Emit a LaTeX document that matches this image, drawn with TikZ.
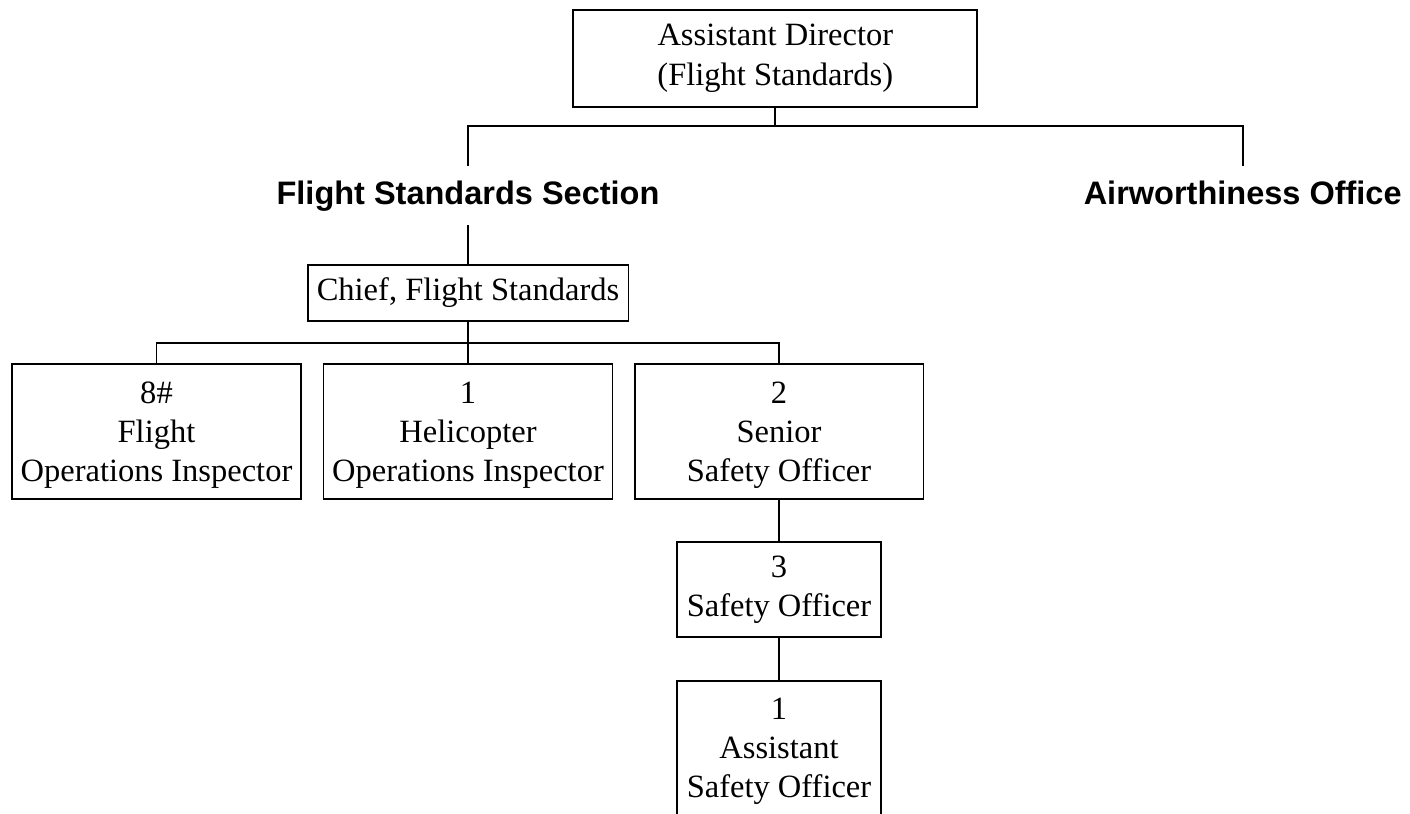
\documentclass[tikz,border=0pt]{standalone}
\usepackage{fontspec}
\setmainfont{Liberation Serif}
\setsansfont{Liberation Sans}
\usepackage{tikz}
\usetikzlibrary{positioning, calc}

\newcommand{\toprule}{\rule{0pt}{16pt}}

\begin{document}
\begin{tikzpicture}[x=0.02cm, y=-0.02cm,
    every node/.style={font=\fontsize{18.5}{22.3}\selectfont},
    unitbox/.style={
        rectangle, draw, line width=1.1pt,
        align=center, inner sep=0pt,
    },
    sectionlabel/.style={
        font=\fontsize{18.5}{22.3}\selectfont\bfseries\sffamily,
        anchor=base, text height=13pt, text depth=2pt, inner xsep=0pt, inner ysep=9.2pt,
    },
    link/.style={draw, line width=1.1pt},
]
\useasboundingbox (0,0) rectangle (1410,814);

% ── Top ───────────────────────────────────────────────────────────────
\node[unitbox, minimum width=8.08cm, minimum height=1.94cm] (dir) at (775.3, 58.3)
    {Assistant Director\\(Flight Standards)};

\node[sectionlabel] (fss) at (468, 205)  {Flight Standards Section};
\node[sectionlabel] (awo) at (1242.7, 205) {Airworthiness Office};

\coordinate (busA) at (0, 126);
\draw[link] (dir.south) -- (dir.south |- busA);
\draw[link] (fss.north) |- (awo.north |- busA) -- (awo.north);

% ── Flight Standards Section ──────────────────────────────────────────
\node[unitbox, minimum width=6.42cm, minimum height=1.12cm] (chief) at (468, 293)
    {Chief, Flight Standards};
\draw[link] (fss.south) -- (chief.north);

\node[unitbox, minimum width=5.78cm, minimum height=2.7cm] (fopi) at (156.5, 431.7)
    {\toprule 8\#\\Flight\\Operations Inspector};
\node[unitbox, minimum width=5.78cm, minimum height=2.7cm] (hopi) at (468, 431.7)
    {\toprule 1\\Helicopter\\Operations Inspector};
\node[unitbox, minimum width=5.78cm, minimum height=2.7cm] (sso) at (779, 431.7)
    {\toprule 2\\Senior\\Safety Officer};

\coordinate (busB) at (0, 342.7);
\draw[link] (chief.south) -- (hopi.north);
\draw[link] (fopi.north) |- (sso.north |- busB) -- (sso.north);

% ── Safety officers ───────────────────────────────────────────────────
\node[unitbox, minimum width=4.08cm, minimum height=1.9cm] (so) at (779, 589.7)
    {3\\Safety Officer};
\node[unitbox, minimum width=4.08cm, minimum height=2.7cm] (aso) at (779, 748.2)
    {\toprule 1\\Assistant\\Safety Officer};

\draw[link] (sso.south) -- (so.north);
\draw[link] (so.south) -- (aso.north);

\end{tikzpicture}
\end{document}
